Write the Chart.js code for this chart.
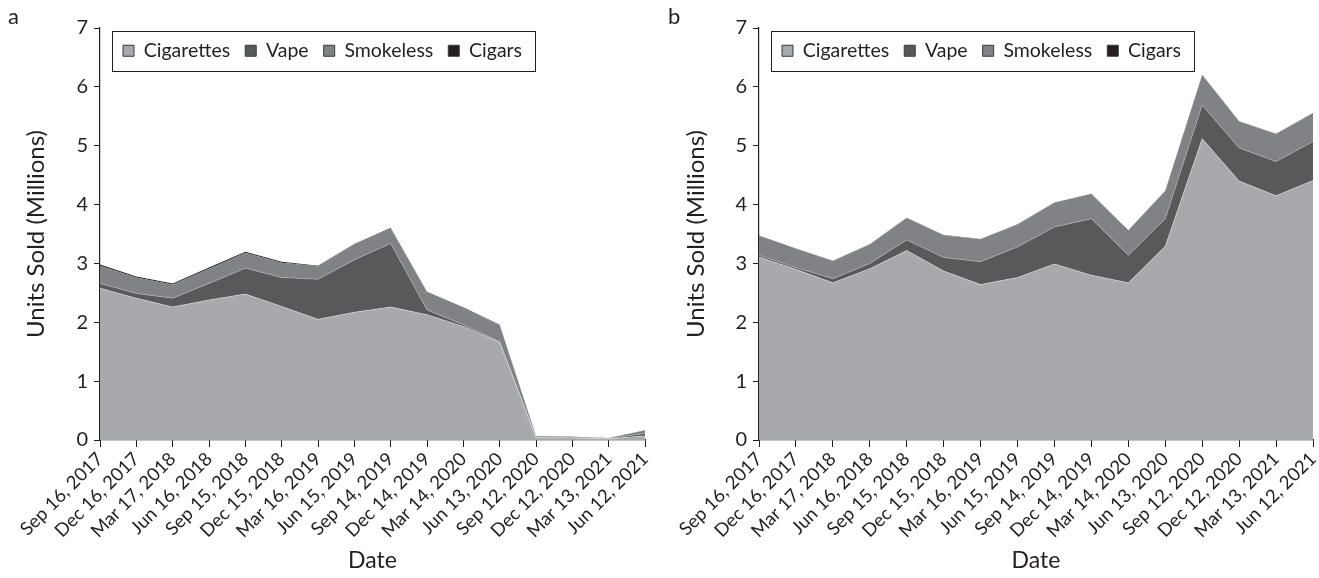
<!DOCTYPE html>
<html>
<head>
<meta charset="utf-8">
<script src="https://cdn.jsdelivr.net/npm/chart.js@4"></script>
<style>
  html, body { margin: 0; padding: 0; background: #fff; }
  #wrap { position: relative; width: 1319px; height: 578px; overflow: hidden; }
  .panel { position: absolute; top: 0; height: 578px; }
  .tag { position: absolute; top: 2px; font-family: Lato, sans-serif; font-size: 22px; color: #231f20; }
</style>
</head>
<body>
<div id="wrap">
  <div class="panel" style="left:0;width:660px;"><canvas id="ca" width="660" height="578"></canvas></div>
  <div class="panel" style="left:660px;width:659px;"><canvas id="cb" width="659" height="578"></canvas></div>
  <div class="tag" style="left:8px;">a</div>
  <div class="tag" style="left:668px;">b</div>
</div>
<script>
// ---- data ----
const dates = ["Sep 16, 2017","Dec 16, 2017","Mar 17, 2018","Jun 16, 2018","Sep 15, 2018","Dec 15, 2018",
  "Mar 16, 2019","Jun 15, 2019","Sep 14, 2019","Dec 14, 2019","Mar 14, 2020","Jun 13, 2020",
  "Sep 12, 2020","Dec 12, 2020","Mar 13, 2021","Jun 12, 2021"];
const seriesNames = ["Cigarettes", "Vape", "Smokeless", "Cigars"];
const yTicks = [0, 1, 2, 3, 4, 5, 6, 7];

const cigarettesA = [2.58, 2.41, 2.26, 2.38, 2.48, 2.27, 2.05, 2.17, 2.26, 2.13, 1.93, 1.66, 0.04, 0.035, 0.02, 0.07];
const vapeA       = [0.08, 0.08, 0.15, 0.28, 0.44, 0.49, 0.68, 0.89, 1.08, 0.08, 0.03, 0.01, 0.003, 0.003, 0.003, 0.04];
const smokelessA  = [0.30, 0.27, 0.23, 0.25, 0.26, 0.25, 0.22, 0.26, 0.25, 0.30, 0.28, 0.28, 0.02, 0.015, 0.01, 0.05];
const cigarsA     = [0.02, 0.02, 0.02, 0.02, 0.02, 0.02, 0.01, 0.01, 0.01, 0.01, 0.01, 0.01, 0.003, 0.003, 0.003, 0.005];

const cigarettesB = [3.11, 2.90, 2.67, 2.91, 3.22, 2.87, 2.64, 2.76, 2.99, 2.80, 2.67, 3.29, 5.12, 4.40, 4.15, 4.41];
const vapeB       = [0.03, 0.03, 0.07, 0.09, 0.18, 0.23, 0.39, 0.52, 0.63, 0.96, 0.47, 0.47, 0.57, 0.56, 0.58, 0.66];
const smokelessB  = [0.33, 0.32, 0.30, 0.32, 0.37, 0.38, 0.38, 0.38, 0.41, 0.42, 0.42, 0.47, 0.51, 0.45, 0.47, 0.48];
const cigarsB     = [0.005, 0.005, 0.005, 0.005, 0.005, 0.005, 0.005, 0.005, 0.005, 0.005, 0.005, 0.005, 0.005, 0.005, 0.005, 0.005];

// ---- styling ----
const FONT = "Lato, 'Open Sans', sans-serif";
const TXT = '#231f20';
const fills = ['#a7a9ac', '#58595b', '#808285', '#231f20'];
const seps  = ['rgba(255,255,255,0.45)', 'rgba(255,255,255,0.35)', 'rgba(0,0,0,0)', 'rgba(0,0,0,0)'];
const LEG_PAD = 15;

function makeDatasets(arrs) {
  return arrs.map((d, i) => ({
    label: seriesNames[i],
    data: d,
    backgroundColor: fills[i],
    borderColor: seps[i],
    borderWidth: i < 2 ? 0.8 : 0,
    fill: i === 0 ? 'origin' : '-1',
    pointRadius: 0,
    pointHoverRadius: 0,
    tension: 0
  }));
}

// Legend: horizontal row (position 'top') that takes no layout space and sits inside the plot area, with a frame
const legendBox = {
  id: 'legendBox',
  beforeLayout(chart) {
    const lg = chart.legend;
    if (lg && !lg._zeroPatched) {
      const origFit = lg.fit.bind(lg);
      lg.fit = function () { origFit(); this.height = 0; };
      lg._zeroPatched = true;
    }
  },
  afterLayout(chart) {
    const lg = chart.legend;
    if (!lg) return;
    const w = lg.right - lg.left;
    lg.left = chart.chartArea.left + 23 - LEG_PAD;
    lg.right = lg.left + w;
    lg.top = chart.chartArea.top + 13 - LEG_PAD;
    lg.bottom = lg.top + 80;
  },
  afterDraw(chart) {
    const lg = chart.legend;
    if (!lg || !lg.legendHitBoxes || !lg.legendHitBoxes.length) return;
    const hb = lg.legendHitBoxes;
    let l = Infinity, r = -Infinity, t = Infinity, b = -Infinity;
    hb.forEach(h => { l = Math.min(l, h.left); r = Math.max(r, h.left + h.width); t = Math.min(t, h.top); b = Math.max(b, h.top + h.height); });
    const ctx = chart.ctx;
    ctx.save();
    ctx.strokeStyle = '#231f20';
    ctx.lineWidth = 1;
    ctx.strokeRect(Math.round(l - 11) + 0.5, Math.round(t - 10) + 0.5, Math.round(r - l + 24), Math.round(b - t + 20));
    ctx.restore();
  }
};

function makeChart(id, arrs, yWidth, padRight) {
  return new Chart(document.getElementById(id), {
    type: 'line',
    data: { labels: dates, datasets: makeDatasets(arrs) },
    plugins: [legendBox],
    options: {
      responsive: false,
      animation: false,
      events: [],
      layout: { padding: { top: 28, right: padRight, bottom: 0, left: 0 } },
      plugins: {
        tooltip: { enabled: false },
        legend: {
          position: 'top',
          align: 'start',
          labels: {
            boxWidth: 11, boxHeight: 11, padding: LEG_PAD,
            color: TXT,
            font: { family: FONT, size: 19.5 },
            generateLabels(chart) {
              return chart.data.datasets.map((ds, i) => ({
                text: ds.label, fillStyle: ds.backgroundColor, strokeStyle: '#3a3a3c',
                lineWidth: 1, hidden: false, datasetIndex: i, fontColor: TXT
              }));
            }
          }
        }
      },
      scales: {
        x: {
          type: 'category',
          offset: false,
          afterFit(s) { s.height = 138; s.paddingLeft = 0; s.paddingRight = 0; },
          grid: { display: true, drawOnChartArea: false, drawTicks: true, tickLength: 7, color: TXT, lineWidth: 1 },
          border: { display: true, color: TXT, width: 1.2 },
          ticks: { autoSkip: false, minRotation: 45, maxRotation: 45, padding: 1, color: TXT, font: { family: FONT, size: 18.5 } },
          title: { display: true, text: 'Date', color: TXT, font: { family: FONT, size: 23 }, padding: { top: 0, bottom: 4 } }
        },
        y: {
          stacked: true,
          min: 0, max: 7,
          afterFit(s) { s.width = yWidth; },
          afterBuildTicks(s) { s.ticks = yTicks.map(v => ({ value: v })); },
          grid: { display: true, drawOnChartArea: false, drawTicks: true, tickLength: 6, color: TXT, lineWidth: 1 },
          border: { display: true, color: TXT, width: 1.2 },
          ticks: { padding: 6, color: TXT, font: { family: FONT, size: 20 } },
          title: { display: true, text: 'Units Sold (Millions)', color: TXT, font: { family: FONT, size: 24 }, padding: { top: 22, bottom: 0 } }
        }
      }
    }
  });
}

makeChart('ca', [cigarettesA, vapeA, smokelessA, cigarsA], 100, 15);
makeChart('cb', [cigarettesB, vapeB, smokelessB, cigarsB], 99, 6);
</script>
</body>
</html>
